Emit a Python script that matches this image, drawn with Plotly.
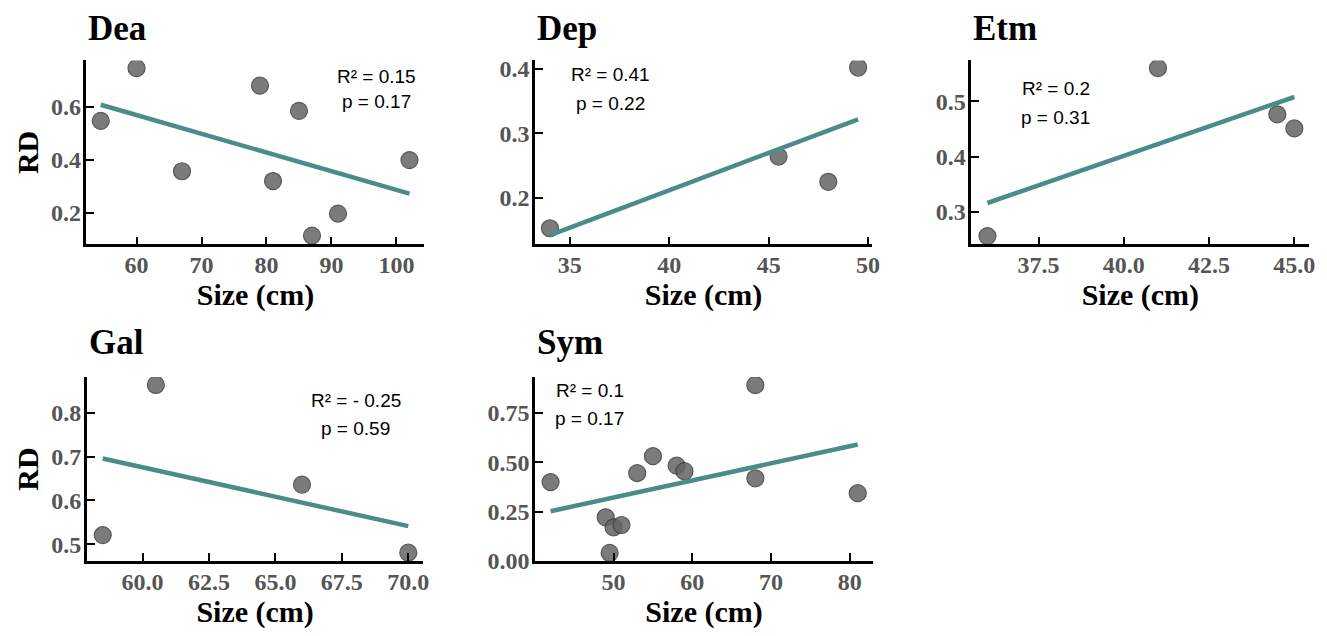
import numpy as np
import plotly.graph_objects as go

# ---- data ----
panels = ["Dea", "Dep", "Etm", "Gal", "Sym"]

dea_size = [54.5, 60, 67, 79, 81, 85, 87, 91, 102]
dea_rd = [0.546, 0.745, 0.356, 0.679, 0.319, 0.584, 0.113, 0.196, 0.398]

dep_size = [34, 45.5, 48, 49.5]
dep_rd = [0.153, 0.264, 0.225, 0.402]

etm_size = [36, 41, 44.5, 45]
etm_rd = [0.256, 0.560, 0.4765, 0.451]

gal_size = [58.5, 60.5, 66, 70]
gal_rd = [0.521, 0.863, 0.636, 0.481]

sym_size = [42, 49, 49.5, 50, 51, 53, 55, 58, 59, 68, 68, 81]
sym_rd = [0.399, 0.221, 0.041, 0.170, 0.182, 0.444, 0.530, 0.482, 0.454, 0.889, 0.418, 0.343]

r2_labels = ["R² = 0.15", "R² = 0.41", "R² = 0.2", "R² = - 0.25", "R² = 0.1"]
p_labels = ["p = 0.17", "p = 0.22", "p = 0.31", "p = 0.59", "p = 0.17"]

x_ranges = [[52.3, 104.3], [33.25, 50.2], [35.53, 45.44], [57.9, 70.57], [40.03, 82.94]]
y_ranges = [[0.08, 0.774], [0.128, 0.413], [0.241, 0.574], [0.462, 0.881], [0.0, 0.93]]
x_dtick = [10, 5, 2.5, 2.5, 10]
y_dtick = [0.2, 0.1, 0.1, 0.1, 0.25]
x_fmt = ["d", "d", ".1f", ".1f", "d"]
y_fmt = [".1f", ".1f", ".1f", ".1f", ".2f"]

data = [(dea_size, dea_rd), (dep_size, dep_rd), (etm_size, etm_rd),
        (gal_size, gal_rd), (sym_size, sym_rd)]

# ---- layout geometry (pixels) ----
W, H = 1327, 636
px_x = [(87, 427), (538.3, 877.3), (977.3, 1317.3), (87.3, 426), (538.3, 878.3)]
px_y = [(58, 247), (58, 247), (58, 247), (383.3, 572.3), (383.3, 572.3)]
stat_pos = [(379, 74, 100), (613.7, 72, 102), (1062, 87, 117), (357.8, 407, 436), (593.3, 397, 426)]
title_y = [25, 25, 25, 348, 348]

TEAL = "rgb(74,140,140)"
SERIF = "Liberation Serif, Times New Roman, serif"
SANS = "Liberation Sans, Arial, sans-serif"

fig = go.Figure()
annotations = []
layout_axes = {}

for i, name in enumerate(panels):
    xs, ys = data[i]
    k = "" if i == 0 else str(i + 1)
    xa, ya = "x" + k, "y" + k
    fig.add_trace(go.Scatter(
        x=xs, y=ys, mode="markers", xaxis=xa, yaxis=ya, showlegend=False,
        marker=dict(size=17, color="rgb(100,100,100)", opacity=0.85,
                    line=dict(color="rgb(60,60,60)", width=1.2))))
    slope, intercept = np.polyfit(xs, ys, 1)
    lx = [min(xs), max(xs)]
    ly = [slope * v + intercept for v in lx]
    fig.add_trace(go.Scatter(
        x=lx, y=ly, mode="lines", xaxis=xa, yaxis=ya, showlegend=False,
        line=dict(color=TEAL, width=4.5)))

    x0, x1 = px_x[i]
    y0, y1 = px_y[i]
    common = dict(showline=True, linecolor="black", linewidth=2.5, mirror=False,
                  ticks="inside", ticklen=8, tickwidth=2, tickcolor="black",
                  showgrid=False, zeroline=False,
                  tickprefix="<b>", ticksuffix="</b>",
                  tickfont=dict(family=SERIF, size=24, color="rgb(85,85,85)", weight="bold"))
    layout_axes["xaxis" + k] = dict(
        common, domain=[x0 / W, x1 / W], range=x_ranges[i], anchor=ya,
        dtick=x_dtick[i], tick0=0, tickformat=x_fmt[i], ticklabelstandoff=-3,
        title=dict(text="Size (cm)", standoff=0,
                   font=dict(family=SERIF, size=30, color="black", weight="bold")))
    ydict = dict(
        common, domain=[1 - y1 / H, 1 - y0 / H], range=y_ranges[i], anchor=xa,
        dtick=y_dtick[i], tick0=0, tickformat=y_fmt[i], ticklabelstandoff=-2)
    if i in (0, 3):
        ydict["title"] = dict(text="RD", standoff=4,
                              font=dict(family=SERIF, size=30, color="black", weight="bold"))
    layout_axes["yaxis" + k] = ydict

    annotations.append(dict(
        text=name, xref="paper", yref="paper", x=x0 / W, y=1 - title_y[i] / H,
        xanchor="left", yanchor="middle", showarrow=False,
        font=dict(family=SERIF, size=35, color="black", weight="bold")))
    sx, sy1, sy2 = stat_pos[i]
    annotations.append(dict(
        text=r2_labels[i], xref="paper", yref="paper", x=sx / W, y=1 - sy1 / H,
        xanchor="center", yanchor="middle", showarrow=False,
        font=dict(family=SANS, size=19, color="black")))
    annotations.append(dict(
        text=p_labels[i], xref="paper", yref="paper", x=sx / W, y=1 - sy2 / H,
        xanchor="center", yanchor="middle", showarrow=False,
        font=dict(family=SANS, size=19, color="black")))

fig.update_layout(
    width=W, height=H, margin=dict(l=0, r=0, t=0, b=0),
    paper_bgcolor="white", plot_bgcolor="white",
    annotations=annotations, **layout_axes)

fig.write_html("out.html")
